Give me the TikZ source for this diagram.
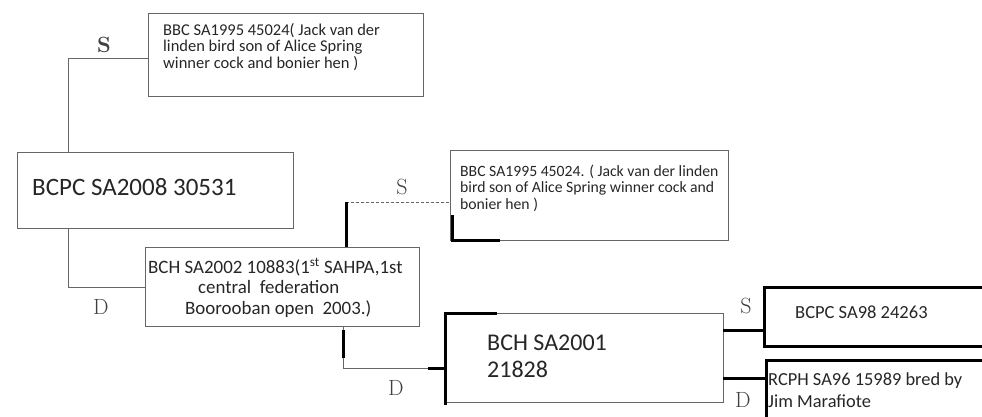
\documentclass[tikz,border=0pt]{standalone}
\usepackage{fontspec}
\setmainfont{Carlito}
\newfontfamily\handfont{Latin Modern Roman}
\begin{document}
\begin{tikzpicture}[x=1pt,y=-1pt,
  pencil/.style={draw=black!60, line width=0.9pt},
  thickln/.style={draw=black, line width=3pt},
  boldbox/.style={draw=black, line width=3pt},
  txt/.style={anchor=base west, inner sep=0pt, align=left, text=black!85},
  hand/.style={inner sep=0pt, text=black!75, font=\handfont\fontsize{22}{22}\selectfont}
]
\useasboundingbox (0,0) rectangle (982,416);
% boxes
\node[pencil, rectangle, minimum width=275pt, minimum height=83pt, anchor=north west, inner sep=0] (b1) at (148,13) {};
\node[pencil, rectangle, minimum width=276pt, minimum height=76pt, anchor=north west, inner sep=0] (b2) at (17,152) {};
\node[pencil, rectangle, minimum width=274pt, minimum height=79pt, anchor=north west, inner sep=0] (b3) at (145,247) {};
\node[pencil, rectangle, minimum width=278pt, minimum height=90pt, anchor=north west, inner sep=0] (b4) at (450,150) {};
\node[pencil, rectangle, minimum width=278pt, minimum height=89pt, anchor=north west, inner sep=0] (b5) at (445,313) {};
\node[boldbox, rectangle, minimum width=240pt, minimum height=59pt, anchor=north west, inner sep=0] (b6) at (763,286) {};
\node[boldbox, rectangle, minimum width=240pt, minimum height=80pt, anchor=north west, inner sep=0] (b7) at (765,359) {};
% texts (base anchor = baseline of last line)
\node[txt, font=\fontsize{16.5}{16.5}\selectfont] (t1) at (163,68)
  {BBC SA1995 45024( Jack van der\\linden bird son of Alice Spring\\winner cock and bonier hen )};
\node[txt, font=\fontsize{25}{27}\selectfont] (t2) at (32,195) {BCPC SA2008 30531};
\node[txt, font=\fontsize{18.9}{20.5}\selectfont] (t3a) at (148,273) {BCH SA2002 10883(1\textsuperscript{st} SAHPA,1st};
\node[txt, font=\fontsize{18.9}{20.5}\selectfont] (t3b) at (198,293.5) {central\ \ federation};
\node[txt, font=\fontsize{18.9}{20.5}\selectfont] (t3c) at (185,314) {Boorooban open\ \ 2003.)};
\node[txt, font=\fontsize{15.7}{16.5}\selectfont] (t4) at (460,209)
  {BBC SA1995 45024. ( Jack van der linden\\bird son of Alice Spring winner cock and\\bonier hen )};
\node[txt, font=\fontsize{24}{27}\selectfont] (t5) at (487,377) {BCH SA2001\\21828};
\node[txt, font=\fontsize{18.5}{22}\selectfont] (t6) at (795,318) {BCPC SA98 24263};
\node[txt, font=\fontsize{18.4}{22}\selectfont] (t7) at (768,407) {RCPH SA96 15989 bred by\\Jim Marafiote};
% connectors
\coordinate (c1) at (68,58);
\draw[pencil] (b1.west |- c1) -- (c1) -- (c1 |- b2.north);
\coordinate (c2) at (68,287);
\draw[pencil] (c2 |- b2.south) -- (c2) -- (c2 -| b3.west);
\coordinate (c3) at (346,202);
\draw[pencil, densely dashed] (c3) -- (c3 -| b4.west);
\draw[thickln] (c3 |- b3.north) -- (c3);
\coordinate (c4) at (343,368);
\draw[pencil] (c4 |- b3.south) -- (c4) -- (c4 -| b5.west);
\coordinate (c4a) at (343,330);
\coordinate (c4b) at (343,358);
\draw[thickln] (c4a) -- (c4b);
\coordinate (c4c) at (428,368);
\draw[thickln] (c4c) -- (c4c -| b5.west);
\coordinate (c5) at (723,330);
\draw[thickln] (c5) -- (c5 -| b6.west);
\coordinate (c6) at (723,378);
\draw[thickln] (c6) -- (c6 -| b7.west);
% thick accents
\draw[thickln] (452,215) -- (452,240) -- (500,240);
\draw[thickln] (445,405) -- (445,313) -- (497,313);
% hand labels
\node[hand, font=\handfont\bfseries\fontsize{22}{22}\selectfont] (s1) at (104,45) {S};
\node[hand] (s2) at (402,187) {S};
\node[hand] (d1) at (101,307) {D};
\node[hand] (d2) at (396,388) {D};
\node[hand] (s3) at (746,306) {S};
\node[hand] (d3) at (743,400) {D};
\end{tikzpicture}
\end{document}
